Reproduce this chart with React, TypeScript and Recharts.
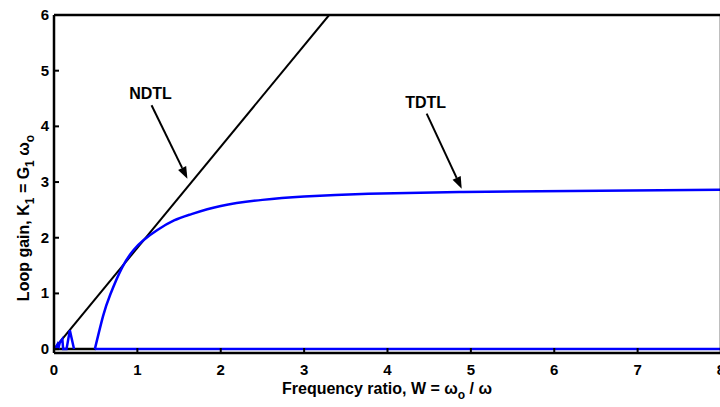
import React from "react";
import { Label, Line, LineChart, ReferenceLine, XAxis, YAxis } from "recharts";

// values
const X_TICKS = [0, 1, 2, 3, 4, 5, 6, 7, 8];
const Y_TICKS = [0, 1, 2, 3, 4, 5, 6];

// NDTL straight line
const NDTL_X = [0, 3.3];
const NDTL_Y = [0, 6];

// black base segment at zero
const BASE_X = [0, 0.5];
const BASE_Y = [0, 0];

// TDTL rising branch
const TDTL_X = [0.49, 0.59, 0.675, 0.815, 0.955, 1.076, 1.24, 1.44, 1.64, 2.0, 2.5, 3.0, 3.77, 4.89, 6.2, 8];
const TDTL_Y = [0, 0.6, 0.98, 1.46, 1.78, 1.96, 2.14, 2.31, 2.42, 2.57, 2.68, 2.74, 2.79, 2.82, 2.84, 2.86];

// TDTL zero branch
const ZERO_X = [0.49, 8];
const ZERO_Y = [0, 0];

// small oscillations near the origin
const SPIKE_X = [0.01, 0.04, 0.05, 0.07, 0.1, 0.11, 0.15, 0.19, 0.24];
const SPIKE_Y = [0, 0.08, 0, 0.12, 0.18, 0, 0, 0.34, 0];

// annotations: label, arrow start, arrow tip
const NOTE_LABELS = ["NDTL", "TDTL"];
const NOTE_FROM = [
  { x: 1.17, y: 4.38 },
  { x: 4.47, y: 4.23 },
];
const NOTE_TO = [
  { x: 1.6, y: 3.06 },
  { x: 4.89, y: 2.88 },
];

const zip = (xs: number[], ys: number[]) => xs.map((x, i) => ({ x, y: ys[i] }));

const FONT = "'Liberation Sans', Arial, Helvetica, sans-serif";
const PLOT_TOP = 15;
const PLOT_BOTTOM = 353;
const PLOT_LEFT = 54;
const PLOT_RIGHT = 721;
const TICK = 5;

const BottomTick = (p: any) => (
  <g>
    <line x1={p.x} x2={p.x} y1={PLOT_BOTTOM} y2={PLOT_BOTTOM - TICK} stroke="#000" strokeWidth={2} />
    <text x={p.x} y={375} textAnchor="middle" fontFamily={FONT} fontWeight="bold" fontSize={15} fill="#000">
      {p.payload.value}
    </text>
  </g>
);

const TopTick = (p: any) => (
  <line x1={p.x} x2={p.x} y1={PLOT_TOP} y2={PLOT_TOP + TICK} stroke="#000" strokeWidth={2} />
);

const LeftTick = (p: any) => (
  <g>
    <line x1={PLOT_LEFT} x2={PLOT_LEFT + TICK} y1={p.y} y2={p.y} stroke="#000" strokeWidth={2} />
    <text x={49} y={p.y + 5} textAnchor="end" fontFamily={FONT} fontWeight="bold" fontSize={15} fill="#000">
      {p.payload.value}
    </text>
  </g>
);

const RightTick = (p: any) => (
  <line x1={PLOT_RIGHT} x2={PLOT_RIGHT - TICK} y1={p.y} y2={p.y} stroke="#000" strokeWidth={2} />
);

const arrowShape = (label: string) => (p: any) => {
  const { x1, y1, x2, y2 } = p;
  const a = Math.atan2(y2 - y1, x2 - x1);
  const len = 12;
  const hw = 4.5;
  const bx = x2 - len * Math.cos(a);
  const by = y2 - len * Math.sin(a);
  const px = -Math.sin(a) * hw;
  const py = Math.cos(a) * hw;
  return (
    <g>
      <line x1={x1} y1={y1} x2={bx} y2={by} stroke="#000" strokeWidth={2} />
      <polygon points={`${x2},${y2} ${bx + px},${by + py} ${bx - px},${by - py}`} fill="#000" />
      <text x={x1 - 1} y={y1 - 6} textAnchor="middle" fontFamily={FONT} fontWeight="bold" fontSize={16} fill="#000">
        {label}
      </text>
    </g>
  );
};

export default function App() {
  return (
    <div style={{ position: "absolute", left: 0, top: 0, width: 720, height: 407, overflow: "hidden", background: "#fff" }}>
      <LineChart width={745} height={407} margin={{ top: PLOT_TOP - 1, right: 745 - PLOT_RIGHT - 1, left: 0, bottom: 0 }}>
        <XAxis
          type="number"
          dataKey="x"
          domain={[0, 8]}
          ticks={X_TICKS}
          height={407 - PLOT_BOTTOM}
          tickLine={false}
          tick={BottomTick}
          axisLine={{ stroke: "#000", strokeWidth: 2.5 }}
          allowDataOverflow
        >
          <Label
            content={() => (
              <text x={387} y={394} textAnchor="middle" fontFamily={FONT} fontWeight="bold" fontSize={16} fill="#000">
                Frequency ratio, W = ω
                <tspan dy={5} fontSize={12}>o</tspan>
                <tspan dy={-5}> / ω</tspan>
              </text>
            )}
          />
        </XAxis>
        <XAxis
          xAxisId="top"
          orientation="top"
          type="number"
          dataKey="x"
          domain={[0, 8]}
          ticks={X_TICKS}
          height={1}
          tickLine={false}
          tick={TopTick}
          axisLine={{ stroke: "#000", strokeWidth: 2.5 }}
        />
        <YAxis
          type="number"
          domain={[-0.07, 6]}
          ticks={Y_TICKS}
          width={PLOT_LEFT}
          tickLine={false}
          tick={LeftTick}
          axisLine={{ stroke: "#000", strokeWidth: 2.5 }}
          allowDataOverflow
        >
          <Label
            content={() => (
              <text
                x={0}
                y={0}
                transform="translate(29,218) rotate(-90)"
                textAnchor="middle"
                fontFamily={FONT}
                fontWeight="bold"
                fontSize={16}
                fill="#000"
              >
                Loop gain, K
                <tspan dy={5} fontSize={12}>1</tspan>
                <tspan dy={-5}> = G</tspan>
                <tspan dy={5} fontSize={12}>1</tspan>
                <tspan dy={-5}> ω</tspan>
                <tspan dy={5} fontSize={12}>o</tspan>
              </text>
            )}
          />
        </YAxis>
        <YAxis
          yAxisId="right"
          orientation="right"
          type="number"
          domain={[-0.07, 6]}
          ticks={Y_TICKS}
          width={1}
          tickLine={false}
          tick={RightTick}
          axisLine={{ stroke: "#000", strokeWidth: 2.5 }}
        />
        <Line data={zip(BASE_X, BASE_Y)} dataKey="y" type="linear" stroke="#000" strokeWidth={2.5} dot={false} isAnimationActive={false} />
        <Line data={zip(NDTL_X, NDTL_Y)} dataKey="y" type="linear" stroke="#000" strokeWidth={2} dot={false} isAnimationActive={false} />
        <Line data={zip(ZERO_X, ZERO_Y)} dataKey="y" type="linear" stroke="#0000ff" strokeWidth={2.5} dot={false} isAnimationActive={false} />
        <Line data={zip(SPIKE_X, SPIKE_Y)} dataKey="y" type="linear" stroke="#0000ff" strokeWidth={2.5} dot={false} isAnimationActive={false} />
        <Line data={zip(TDTL_X, TDTL_Y)} dataKey="y" type="natural" stroke="#0000ff" strokeWidth={2.5} dot={false} isAnimationActive={false} />
        {NOTE_LABELS.map((label, i) => (
          <ReferenceLine
            key={label}
            segment={[NOTE_FROM[i], NOTE_TO[i]]}
            ifOverflow="visible"
            shape={arrowShape(label)}
          />
        ))}
      </LineChart>
    </div>
  );
}
